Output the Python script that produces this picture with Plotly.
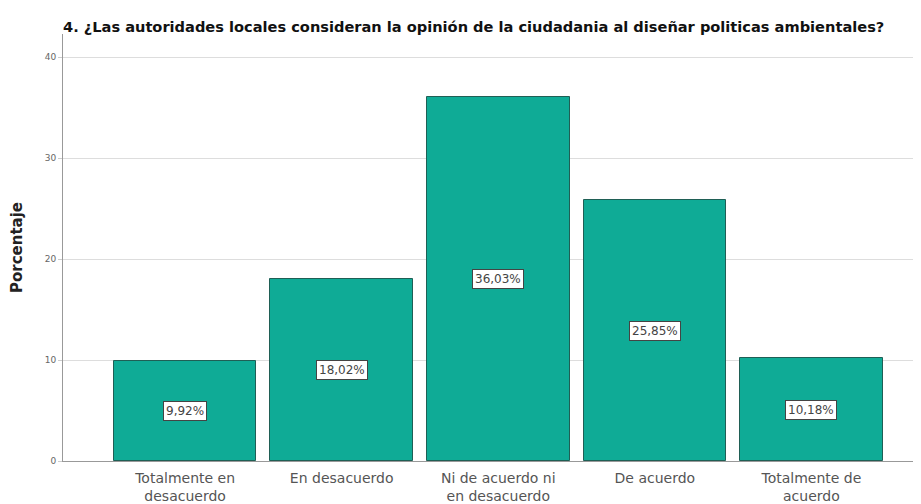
import plotly.graph_objects as go

categories = ["Totalmente en<br>desacuerdo", "En desacuerdo", "Ni de acuerdo ni<br>en desacuerdo", "De acuerdo", "Totalmente de<br>acuerdo"]
values = [9.92, 18.02, 36.03, 25.85, 10.18]
labels = ["9,92%", "18,02%", "36,03%", "25,85%", "10,18%"]
yticks = [0, 10, 20, 30, 40]

x_idx = list(range(len(categories)))

# page body has an 8px margin: figure is sized/positioned to compensate
W, H = 913, 496

fig = go.Figure()
fig.add_trace(go.Bar(
    x=x_idx, y=values, width=0.91,
    marker=dict(color="#0fab96", line=dict(color="#1f5f55", width=1)),
    hoverinfo="skip",
))

for i, (v, t) in enumerate(zip(values, labels)):
    fig.add_annotation(x=i, y=v / 2, text=t, showarrow=False,
                       font=dict(family="DejaVu Sans", size=12, color="#444444"),
                       bgcolor="white", bordercolor="#444444", borderwidth=1, borderpad=2)

fig.update_layout(
    width=W, height=H,
    margin=dict(l=55, r=0, t=26, b=43),
    paper_bgcolor="white", plot_bgcolor="white",
    showlegend=False,
    title=dict(text="<b>4. ¿Las autoridades locales consideran la opinión de la ciudadania al diseñar politicas ambientales?</b>",
               x=55 / W, xref="container", xanchor="left", y=1 - 19 / H, yref="container", yanchor="middle",
               font=dict(family="DejaVu Sans", size=14.6, color="#111111")),
    bargap=0,
)
fig.update_xaxes(
    range=[-0.78, 4.70], tickmode="array", tickvals=x_idx, ticktext=categories,
    showgrid=False, showline=True, linecolor="#999999", linewidth=1,
    ticks="outside", ticklen=4, tickcolor="rgba(0,0,0,0)",
    tickfont=dict(family="DejaVu Sans", size=14, color="#555555"),
    zeroline=False, automargin=False,
)
fig.update_yaxes(
    range=[0, 42.3], tickmode="array", tickvals=yticks, ticktext=[str(t) for t in yticks],
    showgrid=True, gridcolor="#dddddd", gridwidth=1,
    showline=True, linecolor="#999999", linewidth=1, ticks="outside", ticklen=4, tickcolor="#cccccc",
    tickfont=dict(family="DejaVu Sans", size=9, color="#666666"),
    zeroline=False, automargin=False,
    title=dict(text="<b>Porcentaje</b>", standoff=19,
               font=dict(family="DejaVu Sans", size=15, color="#222222")),
)

fig.write_html("out.html")
